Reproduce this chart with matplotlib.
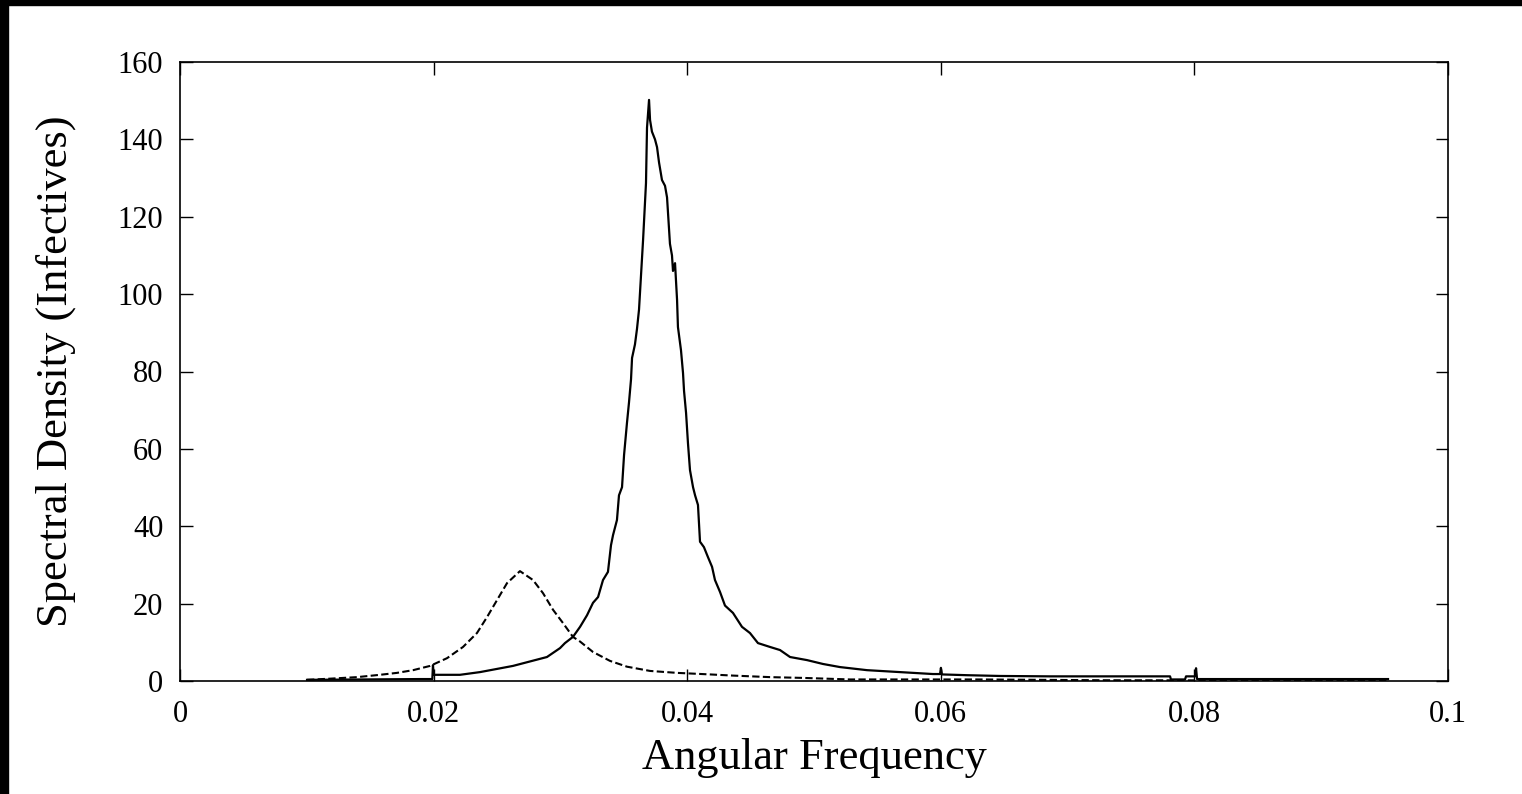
import matplotlib.pyplot as plt
from matplotlib.patches import Rectangle

# solid curve
freq_solid = [0.01002, 0.01893, 0.01990, 0.01995, 0.02001, 0.02011, 0.02208, 0.02366,
              0.02626, 0.02894,
              0.02997, 0.03036, 0.03099, 0.03155, 0.03210, 0.03257, 0.03297, 0.03336,
              0.03375, 0.03399, 0.03415, 0.03446, 0.03462, 0.03486, 0.03502, 0.03525,
              0.03541, 0.03557, 0.03565, 0.03588, 0.03604, 0.03620, 0.03636, 0.03652,
              0.03675, 0.03683, 0.03699, 0.03707, 0.03722, 0.03746, 0.03762, 0.03778,
              0.03801, 0.03825, 0.03841, 0.03864, 0.03880, 0.03888, 0.03904, 0.03920,
              0.03927, 0.03951, 0.03967, 0.03975, 0.03991, 0.04006, 0.04022, 0.04046,
              0.04062, 0.04085, 0.04101, 0.04132, 0.04164, 0.04196, 0.04219, 0.04259,
              0.04298, 0.04361, 0.04432, 0.04495, 0.04558, 0.04653, 0.04732, 0.04811,
              0.04945, 0.05071, 0.05205, 0.05418, 0.05678, 0.05938, 0.05994, 0.06001,
              0.06009, 0.06207, 0.06467, 0.06861, 0.07808, 0.07815, 0.07926, 0.07934,
              0.08005, 0.08013, 0.08021, 0.09527]
dens_solid = [0.3, 0.5, 0.5, 4.1, 1.6, 1.6, 1.6, 2.3,
              3.9, 6.2,
              8.5, 9.8, 11.4, 14.0, 17.0, 20.2, 21.7, 26.1,
              28.2, 35.1, 37.7, 41.6, 48.0, 50.1, 58.4, 66.7,
              72.0, 78.0, 83.5, 87.0, 91.0, 96.0, 105.0, 114.0,
              128.7, 143.0, 150.2, 145.0, 142.0, 140.0, 138.0, 134.0,
              129.5, 128.0, 125.0, 113.0, 110.0, 106.0, 108.0, 98.5,
              91.5, 85.5, 79.6, 75.0, 69.3, 61.5, 54.5, 50.1,
              48.0, 45.5, 36.0, 34.6, 32.0, 29.5, 26.1, 23.0,
              19.5, 17.6, 14.0, 12.4, 9.8, 8.8, 8.0, 6.2,
              5.4, 4.4, 3.6, 2.8, 2.3, 1.8, 1.8, 3.4,
              1.7, 1.5, 1.3, 1.2, 1.2, 0.4, 0.4, 1.2,
              1.2, 3.3, 0.5, 0.5]

# dashed curve
freq_dash = [0.01002, 0.01183, 0.01396, 0.01577, 0.01711, 0.01838, 0.01972, 0.02106,
             0.02232, 0.02342, 0.02421, 0.02500, 0.02579, 0.02681, 0.02784, 0.02863,
             0.02942, 0.03020, 0.03099, 0.03155, 0.03257, 0.03391, 0.03525, 0.03707,
             0.03920, 0.04180, 0.04361, 0.04653, 0.04913, 0.05284, 0.06309, 0.07256,
             0.09527]
dens_dash = [0.3, 0.6, 1.0, 1.6, 2.1, 2.8, 3.9, 5.9,
             8.8, 12.4, 16.5, 20.9, 25.3, 28.4, 26.1, 22.7,
             18.4, 15.0, 11.4, 10.2, 7.5, 5.2, 3.7, 2.6,
             2.1, 1.7, 1.4, 1.0, 0.8, 0.4, 0.4, 0.2,
             0.1]

plt.rcParams['font.family'] = ['Liberation Serif', 'DejaVu Serif']

fig = plt.figure(figsize=(15.22, 7.94), dpi=100)
ax = fig.add_axes([180/1522, 1 - 681/794, 1268/1522, 619/794])

ax.plot(freq_solid, dens_solid, color='black', lw=1.6)
ax.plot(freq_dash, dens_dash, color='black', lw=1.5, dashes=(3.5, 1.6))

ax.set_xlim(0, 0.1)
ax.set_ylim(0, 160)
ax.set_xticks([0, 0.02, 0.04, 0.06, 0.08, 0.1])
ax.set_xticklabels(['0', '0.02', '0.04', '0.06', '0.08', '0.1'])
ax.set_yticks(range(0, 161, 20))
ax.tick_params(direction='in', length=9, width=1, top=True, right=True,
               labelsize=22, pad=12, colors='black')
ax.tick_params(axis='x', pad=14)
for s in ax.spines.values():
    s.set_linewidth(1.2)

ax.set_xlabel('Angular Frequency', fontsize=32, labelpad=6)
ax.set_ylabel('Spectral Density (Infectives)', fontsize=32, labelpad=30)

# black frame strips at the left and top edge
fig.patches.append(Rectangle((0, 0), 7.5/1522, 1, transform=fig.transFigure,
                             color='black', zorder=10))
fig.patches.append(Rectangle((0, 1 - 5/794), 1, 5/794, transform=fig.transFigure,
                             color='black', zorder=10))

fig.savefig('out.png', dpi=100)
